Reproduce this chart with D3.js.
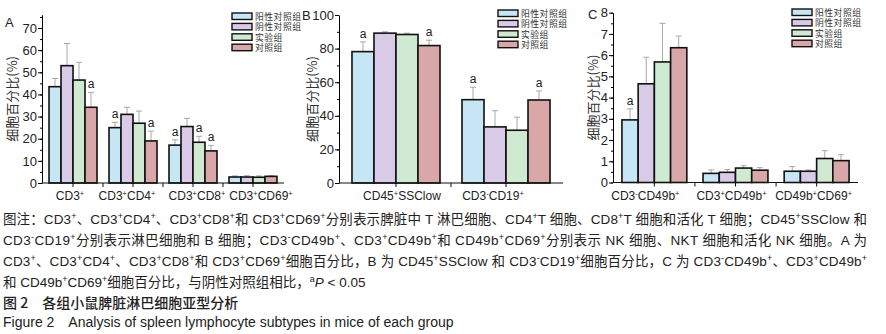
<!DOCTYPE html>
<html>
<head>
<meta charset="utf-8">
<script src="https://cdn.jsdelivr.net/npm/d3@7"></script>
<style>
  body { margin: 0; background: #fff; }
  text { font-family: "Liberation Sans", Arial, "Noto Sans CJK SC", sans-serif; }
</style>
</head>
<body>
<script>
const width = 886;
const height = 334;

// series (legend) names and colours
const seriesNames = ["阳性对照组", "阴性对照组", "实验组", "对照组"];
const seriesColors = ["#c6e6f6", "#d9cae7", "#d0e9d1", "#d9a7a7"];

// panel A
const groupsA = ["CD3^+", "CD3^+CD4^+", "CD3^+CD8^+", "CD3^+CD69^+"];
const valuesA = [[43.5, 53, 46.5, 34.2], [25, 31, 27, 19], [17.1, 25.5, 18.4, 14.5], [2.7, 2.7, 2.6, 3.0]];
const errorsA = [[3.7, 10, 8, 6.7], [2.4, 3.2, 5.5, 4.4], [2.4, 3.7, 2.7, 2.5], [0.5, 0.6, 0.6, 0.3]];
const sigA = [[0, 0, 0, 1], [1, 0, 0, 1], [1, 0, 1, 1], [0, 0, 0, 0]];
const ticksA = [0, 10, 20, 30, 40, 50, 60, 70];

// panel B
const groupsB = ["CD45^+SSClow", "CD3^-CD19^+"];
const valuesB = [[78.2, 89.2, 88.4, 81.8], [49.6, 33.4, 31.4, 49.4]];
const errorsB = [[5.8, 0.8, 0.8, 3.2], [7.4, 9.6, 7.8, 5.4]];
const sigB = [[1, 0, 0, 1], [1, 0, 0, 1]];
const ticksB = [0, 20, 40, 60, 80, 100];

// panel C
const groupsC = ["CD3^-CD49b^+", "CD3^+CD49b^+", "CD49b^+CD69^+"];
const valuesC = [[2.95, 4.65, 5.68, 6.35], [0.43, 0.48, 0.68, 0.58], [0.53, 0.53, 1.13, 1.03]];
const errorsC = [[0.52, 1.25, 1.82, 0.55], [0.16, 0.13, 0.11, 0.12], [0.22, 0.06, 0.37, 0.28]];
const sigC = [[1, 0, 0, 0], [0, 0, 0, 0], [0, 0, 0, 0]];
const ticksC = [0, 1, 2, 3, 4, 5, 6, 7, 8];

// caption lines
const captionLines = [
  "图注：CD3^+、CD3^+CD4^+、CD3^+CD8^+和 CD3^+CD69^+分别表示脾脏中 T 淋巴细胞、CD4^+T 细胞、CD8^+T 细胞和活化 T 细胞；CD45^+SSClow 和",
  "CD3^-CD19^+分别表示淋巴细胞和 B 细胞；CD3^-CD49b^+、CD3^+CD49b^+和 CD49b^+CD69^+分别表示 NK 细胞、NKT 细胞和活化 NK 细胞。A 为",
  "CD3^+、CD3^+CD4^+、CD3^+CD8^+和 CD3^+CD69^+细胞百分比，B 为 CD45^+SSClow 和 CD3^-CD19^+细胞百分比，C 为 CD3^-CD49b^+、CD3^+CD49b^+",
  "和 CD49b^+CD69^+细胞百分比，与阴性对照组相比，^a*P* < 0.05"
];
const figTitleCn = "图 2　各组小鼠脾脏淋巴细胞亚型分析";
const figTitleEn = "Figure 2　Analysis of spleen lymphocyte subtypes in mice of each group";

const svg = d3.select("body")
  .append("svg")
  .attr("width", width)
  .attr("height", height);

/** writes a label with ^+ ^- ^a superscripts and *italic* parts */
function richText(sel, str, supSize) {
  const parts = str.split(/(\^[+\-a]|\*[^*]+\*)/).filter(s => s !== "");
  parts.forEach(p => {
    if (p[0] === "^") {
      sel.append("tspan")
        .attr("baseline-shift", "super")
        .attr("font-size", supSize)
        .text(p[1]);
    } else if (p[0] === "*") {
      sel.append("tspan").attr("font-style", "italic").text(p.slice(1, -1));
    } else {
      sel.append("tspan").text(p);
    }
  });
}

function drawPanel(cfg) {
  const g = svg.append("g");
  const y = d3.scaleLinear().domain(cfg.yDomain).range([cfg.y0, cfg.yTop]);
  const x = d3.scaleBand().domain(cfg.groups).range(cfg.xRange)
    .paddingInner(0.2).paddingOuter(cfg.outer);
  const xs = d3.scaleBand().domain(d3.range(4)).range([0, x.bandwidth()]);

  // y axis: minor ticks then major ticks
  g.append("g")
    .attr("transform", `translate(${cfg.xRange[0]},0)`)
    .call(d3.axisLeft(y).tickValues(cfg.minor).tickSize(2).tickSizeOuter(0).tickFormat(""))
    .call(a => a.select(".domain").remove());
  const ya = g.append("g")
    .attr("transform", `translate(${cfg.xRange[0]},0)`)
    .call(d3.axisLeft(y).tickValues(cfg.ticks).tickSize(4).tickSizeOuter(0).tickPadding(1));
  ya.selectAll("text")
    .style("font-size", "13px")
    .attr("fill", "#222");

  // bars
  cfg.groups.forEach((grp, gi) => {
    const gg = g.append("g").attr("transform", `translate(${x(grp)},0)`);
    cfg.values[gi].forEach((v, si) => {
      const bx = xs(si) + xs.bandwidth() / 2;
      const top = y(v + cfg.errors[gi][si]);
      gg.append("line")
        .attr("x1", bx).attr("x2", bx)
        .attr("y1", y(v)).attr("y2", top)
        .attr("stroke", "#a8a8a8").attr("stroke-width", 1);
      gg.append("line")
        .attr("x1", bx - 3).attr("x2", bx + 3)
        .attr("y1", top).attr("y2", top)
        .attr("stroke", "#a8a8a8").attr("stroke-width", 1);
      gg.append("rect")
        .attr("x", xs(si))
        .attr("y", y(v))
        .attr("width", xs.bandwidth())
        .attr("height", cfg.y0 - y(v))
        .attr("fill", seriesColors[si])
        .attr("stroke", "#111")
        .attr("stroke-width", 1.6);
      if (cfg.sig[gi][si]) {
        gg.append("text")
          .attr("x", bx)
          .attr("y", top - 4)
          .attr("text-anchor", "middle")
          .style("font-size", "12px")
          .attr("fill", "#222")
          .text("a");
      }
    });
  });

  // x axis with ticks at group centres and between groups
  g.append("line")
    .attr("x1", cfg.xRange[0]).attr("x2", cfg.xRange[1])
    .attr("y1", cfg.y0).attr("y2", cfg.y0)
    .attr("stroke", "#111");
  const tickX = [];
  cfg.groups.forEach((grp, i) => {
    tickX.push(x(grp) + x.bandwidth() / 2);
    if (i < cfg.groups.length - 1) tickX.push((x(grp) + x.bandwidth() + x(cfg.groups[i + 1])) / 2);
  });
  g.selectAll(null).data(tickX).enter().append("line")
    .attr("x1", d => d).attr("x2", d => d)
    .attr("y1", cfg.y0).attr("y2", cfg.y0 + 4)
    .attr("stroke", "#111");

  // x labels
  cfg.groups.forEach((grp, i) => {
    const t = g.append("text")
      .attr("x", x(grp) + x.bandwidth() / 2 + cfg.labelShift[i])
      .attr("y", 200)
      .attr("text-anchor", "middle")
      .style("font-size", "12px")
      .attr("fill", "#222");
    richText(t, grp, "7.5px");
  });

  // y label
  g.append("text")
    .attr("transform", `translate(${cfg.yLabelX},${(cfg.y0 + cfg.yTop) / 2})rotate(-90)`)
    .attr("text-anchor", "middle")
    .style("font-family", "'Noto Sans CJK SC', sans-serif")
    .style("font-size", "13px")
    .attr("fill", "#333")
    .text("细胞百分比(%)");

  // panel letter
  g.append("text")
    .attr("x", cfg.letterPos[0]).attr("y", cfg.letterPos[1])
    .style("font-size", "13px")
    .attr("fill", "#222")
    .text(cfg.letter);

  // legend
  const leg = g.append("g").attr("transform", `translate(${cfg.legendPos[0]},${cfg.legendPos[1]})`);
  seriesNames.forEach((name, i) => {
    leg.append("rect")
      .attr("x", 0).attr("y", i * 10.4)
      .attr("width", 20).attr("height", 6.5)
      .attr("fill", seriesColors[i])
      .attr("stroke", "#111").attr("stroke-width", 1.4);
    leg.append("text")
      .attr("x", 23).attr("y", i * 10.4 + 7)
      .style("font-family", "'Noto Sans CJK SC', sans-serif")
      .style("font-size", "8.8px")
      .style("letter-spacing", "0.5px")
      .attr("fill", "#333")
      .text(name);
  });
}

drawPanel({
  letter: "A", letterPos: [5, 27],
  groups: groupsA, values: valuesA, errors: errorsA, sig: sigA,
  ticks: ticksA, minor: d3.range(0, 76, 5), yDomain: [0, 76],
  y0: 183, yTop: 183 - 76 * 2.214,
  xRange: [42, 284], outer: 0.117, labelShift: [-3, -6, 4, 8],
  yLabelX: 17, legendPos: [232, 13]
});

drawPanel({
  letter: "B", letterPos: [302, 20],
  groups: groupsB, values: valuesB, errors: errorsB, sig: sigB,
  ticks: ticksB, minor: d3.range(0, 101, 10), yDomain: [0, 100],
  y0: 183, yTop: 15,
  xRange: [339, 563], outer: 0.118, labelShift: [6, -13],
  yLabelX: 317, legendPos: [498, 10]
});

drawPanel({
  letter: "C", letterPos: [588, 19],
  groups: groupsC, values: valuesC, errors: errorsC, sig: sigC,
  ticks: ticksC, minor: d3.range(0, 8.01, 0.5), yDomain: [0, 8],
  y0: 182.5, yTop: 12.7,
  xRange: [613, 858], outer: 0.11, labelShift: [-9, -4, -3],
  yLabelX: 598, legendPos: [792, 9]
});

// caption
const capY = [224, 245, 266, 287];
captionLines.forEach((line, i) => {
  const t = svg.append("text")
    .attr("x", 3)
    .attr("y", capY[i])
    .style("font-size", "13.5px")
    .attr("fill", "#222");
  if (i < 3) t.attr("textLength", 864).attr("lengthAdjust", "spacing");
  richText(t, line, "9px");
});

svg.append("text")
  .attr("x", 3).attr("y", 308)
  .style("font-family", "'Noto Sans CJK SC', sans-serif")
  .style("font-size", "14px")
  .style("font-weight", "500")
  .attr("fill", "#222")
  .text(figTitleCn);

svg.append("text")
  .attr("x", 3).attr("y", 327)
  .style("font-size", "14px")
  .attr("fill", "#222")
  .text(figTitleEn);
</script>
</body>
</html>
